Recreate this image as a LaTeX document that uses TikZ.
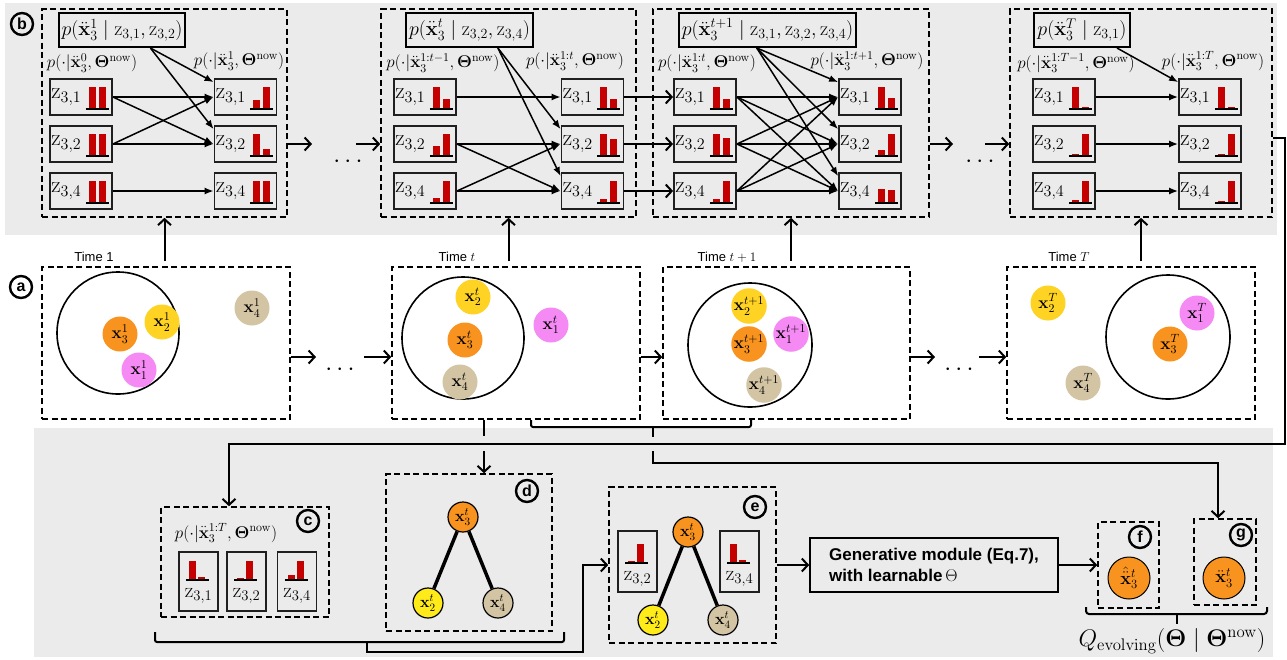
\RequirePackage{fix-cm}
\documentclass[tikz,border=0pt]{standalone}
\usepackage{amsmath,amssymb}
\usepackage[no-math]{fontspec}
\setsansfont{Liberation Sans}
\usetikzlibrary{arrows.meta,calc}
\definecolor{bgg}{HTML}{EBEBEB}
\definecolor{cor}{HTML}{F7931E}
\definecolor{cye}{HTML}{FFD324}
\definecolor{cye2}{HTML}{FFEA1A}
\definecolor{cpk}{HTML}{F58AF5}
\definecolor{ctn}{HTML}{D3C4A4}
\definecolor{cbar}{HTML}{C40000}
% horizontal z box: name, x, y, index, h1, h2
\newcommand{\hz}[6]{%
  \node[zb] (#1) at (#2,#3) {};
  \node[zlab, anchor=west] (#1t) at ([xshift=2pt]#1.west) {$\mathrm{z}_{3,#4}$};
  \fill[cbar] ([xshift=-24pt,yshift=7pt]#1.south east) rectangle ++(7pt,{#5*22pt});
  \fill[cbar] ([xshift=-14pt,yshift=7pt]#1.south east) rectangle ++(7pt,{#6*22pt});
  \draw[line width=1.8pt] ([xshift=-27pt,yshift=7pt]#1.south east) -- ++(23pt,0pt);
}
% vertical z box: name, x, y, index, h1, h2, height, baseline offset, label offset
\newcommand{\vz}[9]{%
  \node[zb, minimum width=39pt, minimum height=#7pt] (#1) at (#2,#3) {};
  \fill[cbar] ([xshift=11pt,yshift=-#8pt]#1.north west) rectangle ++(7pt,{#5*19pt});
  \fill[cbar] ([xshift=20pt,yshift=-#8pt]#1.north west) rectangle ++(7pt,{#6*19pt});
  \draw[line width=1.8pt] ([xshift=8pt,yshift=-#8pt]#1.north west) -- ++(23pt,0pt);
  \node[zlab2] (#1t) at ([yshift=-#9pt]#1.north) {$\mathrm{z}_{3,#4}$};
}
\begin{document}
\begin{tikzpicture}[x=1pt,y=-1pt,font=\fontsize{18}{21}\selectfont,
 dbox/.style={draw, dash pattern=on 6pt off 3.5pt, line width=1.6pt, inner sep=0pt},
 zb/.style={draw=black!88, line width=1.8pt, minimum width=62pt, minimum height=36pt, inner sep=0pt, fill=bgg},
 zlab/.style={inner sep=0pt, font=\fontsize{23}{25}\selectfont},
 zlab2/.style={inner sep=0pt, font=\fontsize{21}{23}\selectfont},
 hdr/.style={draw, line width=2pt, fill=bgg, inner sep=3pt, minimum height=34pt, font=\fontsize{20}{22}\selectfont},
 plab/.style={inner sep=0pt, font=\fontsize{17}{19}\selectfont},
 arr/.style={line width=1.5pt, -{Latex[length=9pt,width=7pt]}},
 barr/.style={line width=2pt, -{Straight Barb[length=6pt,width=13pt]}},
 thk/.style={line width=2pt},
 clab/.style={circle, draw, line width=2.4pt, inner sep=0pt, minimum size=22pt, font=\sffamily\bfseries\fontsize{16}{16}\selectfont},
 an/.style={circle, minimum size=35pt, inner sep=0pt, font=\fontsize{17}{19}\selectfont},
 dn/.style={circle, draw, line width=1.2pt, minimum size=30pt, inner sep=0pt, font=\fontsize{16}{18}\selectfont},
 fn/.style={circle, draw, line width=1pt, fill=cor, minimum size=42pt, inner sep=0pt, font=\fontsize{18}{20}\selectfont},
 tlab/.style={font=\sffamily\fontsize{13}{15}\selectfont, inner sep=0pt},
 dts/.style={font=\fontsize{25}{27}\selectfont, inner sep=0pt},
 ring/.style={circle, draw, line width=1.6pt, inner sep=0pt}
]
\useasboundingbox (0,0) rectangle (1287,659);
\fill[white] (0,0) rectangle (1287,659);
\fill[bgg] (5,3) rectangle (1277,235);
\fill[bgg] (34,428) rectangle (1273,657);

% ---------------- panel b -----------------
\node[dbox, minimum width=245pt, minimum height=208pt] (B1) at (164.5,113) {};
\node[dbox, minimum width=255pt, minimum height=208pt] (B2) at (508.5,113) {};
\node[dbox, minimum width=276pt, minimum height=208pt] (B3) at (791,113) {};
\node[dbox, minimum width=262pt, minimum height=208pt] (B4) at (1141,113) {};
\node[clab] (lb) at (22,24) {b};

% B1
\node[hdr] (h1) at (122,30) {$p(\ddot{\mathbf{x}}_3^{1} \mid \mathrm{z}_{3,1}, \mathrm{z}_{3,2})$};
\node[plab] (b1ll) at (92,63) {$p(\cdot|\ddot{\mathbf{x}}_3^{0}, \mathbf{\Theta}^{\mathrm{now}})$};
\node[plab] (b1rl) at (239,61) {$p(\cdot|\ddot{\mathbf{x}}_3^{1}, \mathbf{\Theta}^{\mathrm{now}})$};
\hz{b1l1}{81}{97}{1}{1}{1}
\hz{b1l2}{81}{144}{2}{1}{1}
\hz{b1l4}{81}{191}{4}{1}{1}
\hz{b1r1}{245.5}{97}{1}{0.4}{1}
\hz{b1r2}{245.5}{144}{2}{1}{0.3}
\hz{b1r4}{245.5}{191}{4}{1}{1}
\coordinate (h1o) at ($(h1.south west)!0.72!(h1.south east)$);
\draw[arr] (h1o) -- ([yshift=-4pt]b1r1.north west);
\draw[arr] (h1o) -- ([yshift=-4pt]b1r2.north west);
\draw[arr] (b1l1.east) -- (b1r1.west);
\draw[arr] (b1l1.east) -- (b1r2.west);
\draw[arr] (b1l2.east) -- (b1r1.west);
\draw[arr] (b1l2.east) -- (b1r2.west);
\draw[arr] (b1l4.east) -- (b1r4.west);

% B2
\node[hdr] (h2) at (469.5,30) {$p(\ddot{\mathbf{x}}_3^{t} \mid \mathrm{z}_{3,2}, \mathrm{z}_{3,4})$};
\node[plab] (b2ll) at (443,63) {$p(\cdot|\ddot{\mathbf{x}}_3^{1:t-1}, \mathbf{\Theta}^{\mathrm{now}})$};
\node[plab] (b2rl) at (575,61) {$p(\cdot|\ddot{\mathbf{x}}_3^{1:t}, \mathbf{\Theta}^{\mathrm{now}})$};
\hz{b2l1}{425}{97}{1}{1}{0.45}
\hz{b2l2}{425}{144}{2}{0.45}{1}
\hz{b2l4}{425}{191}{4}{0.22}{1}
\hz{b2r1}{592.5}{97}{1}{1}{0.45}
\hz{b2r2}{592.5}{144}{2}{1}{0.78}
\hz{b2r4}{592.5}{191}{4}{0.2}{1}
\coordinate (h2o) at ($(h2.south west)!0.72!(h2.south east)$);
\draw[arr] (h2o) -- ([yshift=-4pt]b2r2.north west);
\draw[arr] (h2o) -- ([yshift=-4pt]b2r4.north west);
\draw[arr] (b2l1.east) -- (b2r1.west);
\draw[arr] (b2l2.east) -- (b2r2.west);
\draw[arr] (b2l2.east) -- (b2r4.west);
\draw[arr] (b2l4.east) -- (b2r2.west);
\draw[arr] (b2l4.east) -- (b2r4.west);

% B3
\node[hdr] (h3) at (767.5,30) {$p(\ddot{\mathbf{x}}_3^{t+1} \mid \mathrm{z}_{3,1}, \mathrm{z}_{3,2}, \mathrm{z}_{3,4})$};
\node[plab] (b3ll) at (707,63) {$p(\cdot|\ddot{\mathbf{x}}_3^{1:t}, \mathbf{\Theta}^{\mathrm{now}})$};
\node[plab] (b3rl) at (867,61) {$p(\cdot|\ddot{\mathbf{x}}_3^{1:t+1}, \mathbf{\Theta}^{\mathrm{now}})$};
\hz{b3l1}{705}{97}{1}{1}{0.45}
\hz{b3l2}{705}{144}{2}{1}{0.8}
\hz{b3l4}{705}{191}{4}{0.2}{1}
\hz{b3r1}{870}{97}{1}{1}{0.5}
\hz{b3r2}{870}{144}{2}{0.27}{1}
\hz{b3r4}{870}{191}{4}{0.65}{0.57}
\coordinate (h3o) at ($(h3.south west)!0.44!(h3.south east)$);
\draw[arr] (h3o) -- ([yshift=-4pt]b3r1.north west);
\draw[arr] (h3o) -- ([yshift=-4pt]b3r2.north west);
\draw[arr] (h3o) -- ([yshift=-4pt]b3r4.north west);
\foreach \i in {1,2,4}{\foreach \j in {1,2,4}{\draw[arr] (b3l\i.east) -- (b3r\j.west);}}

% B4
\node[hdr] (h4) at (1082,30) {$p(\ddot{\mathbf{x}}_3^{T} \mid \mathrm{z}_{3,1})$};
\node[plab] (b4ll) at (1076,63) {$p(\cdot|\ddot{\mathbf{x}}_3^{1:T-1}, \mathbf{\Theta}^{\mathrm{now}})$};
\node[plab] (b4rl) at (1213,61) {$p(\cdot|\ddot{\mathbf{x}}_3^{1:T}, \mathbf{\Theta}^{\mathrm{now}})$};
\hz{b4l1}{1064}{97}{1}{1}{0.1}
\hz{b4l2}{1064}{144}{2}{0.08}{1}
\hz{b4l4}{1064}{191}{4}{0.15}{1}
\hz{b4r1}{1210}{97}{1}{1}{0.1}
\hz{b4r2}{1210}{144}{2}{0.1}{1}
\hz{b4r4}{1210}{191}{4}{0.1}{1}
\coordinate (h4o) at ($(h4.south west)!0.86!(h4.south east)$);
\draw[arr] (h4o) -- ([yshift=-4pt]b4r1.north west);
\draw[arr] (b4l1.east) -- (b4r1.west);
\draw[arr] (b4l2.east) -- (b4r2.west);
\draw[arr] (b4l4.east) -- (b4r4.west);

% between panels b
\draw[barr] (b2r1.east) -- (b3l1.west);
\draw[barr] (b2r2.east) -- (b3l2.west);
\draw[barr] (b2r4.east) -- (b3l4.west);
\coordinate (e1) at (312,144);
\coordinate (s1) at (356,144);
\coordinate (e2) at (953,144);
\coordinate (s2) at (985,144);
\draw[barr] (B1.east |- b1r2) -- (e1);
\node[dts] (dt1) at (350,162) {$\cdots$};
\draw[barr] (s1) -- (B2.west |- b2l2);
\draw[barr] (B3.east |- b3r2) -- (e2);
\node[dts] (dt2) at (982,162) {$\cdots$};
\draw[barr] (s2) -- (B4.west |- b4l2);

% ---------------- panel a -----------------
\node[clab] (la) at (21,287) {a};
\node[dbox, minimum width=248pt, minimum height=152pt] (A1) at (166,343) {};
\node[dbox, minimum width=248pt, minimum height=152pt] (A2) at (516,343) {};
\node[dbox, minimum width=247pt, minimum height=152pt] (A3) at (786.5,343) {};
\node[dbox, minimum width=248pt, minimum height=152pt] (A4) at (1131,343) {};
\node[tlab] (t1) at (94,257) {Time 1};
\node[tlab] (t2) at (457,257) {Time $t$};
\node[tlab] (t3) at (727,257) {Time $t+1$};
\node[tlab] (t4) at (1069,257) {Time $T$};

\node[ring, minimum size=122pt] (r1) at (118,333) {};
\node[ring, minimum size=122pt] (r2) at (463,338) {};
\node[ring, minimum size=124pt] (r3) at (750,345) {};
\node[ring, minimum size=124pt] (r4) at (1168,337) {};

\node[an, fill=cor] (a13) at (120,334) {$\mathbf{x}_3^1$};
\node[an, fill=cye] (a12) at (162,322) {$\mathbf{x}_2^1$};
\node[an, fill=cpk] (a11) at (139,370) {$\mathbf{x}_1^1$};
\node[an, fill=ctn] (a14) at (252,308) {$\mathbf{x}_4^1$};

\node[an, fill=cye] (a22) at (473,297) {$\mathbf{x}_2^t$};
\node[an, fill=cor] (a23) at (465,340) {$\mathbf{x}_3^t$};
\node[an, fill=ctn] (a24) at (460,382) {$\mathbf{x}_4^t$};
\node[an, fill=cpk] (a21) at (551,325) {$\mathbf{x}_1^t$};

\node[an, fill=cye] (a32) at (749,306) {$\mathbf{x}_2^{t+1}$};
\node[an, fill=cor] (a33) at (749,344) {$\mathbf{x}_3^{t+1}$};
\node[an, fill=cpk] (a31) at (791,334) {$\mathbf{x}_1^{t+1}$};
\node[an, fill=ctn] (a34) at (764,385) {$\mathbf{x}_4^{t+1}$};

\node[an, fill=cye] (a42) at (1048,303) {$\mathbf{x}_2^T$};
\node[an, fill=cpk] (a41) at (1197,313) {$\mathbf{x}_1^T$};
\node[an, fill=cor] (a43) at (1170,344) {$\mathbf{x}_3^T$};
\node[an, fill=ctn] (a44) at (1083,383) {$\mathbf{x}_4^T$};

% up arrows
\draw[barr] ([yshift=5pt]A1.north -| B1.south) -- (B1.south);
\draw[barr] ([yshift=5pt]A2.north -| B2.south) -- (B2.south);
\draw[barr] ([yshift=5pt]A3.north -| B3.south) -- (B3.south);
\draw[barr] ([yshift=5pt]A4.north -| B4.south) -- (B4.south);

% horizontal arrows in row a
\coordinate (ya) at (0,357);
\coordinate (e3) at (316,357);
\coordinate (s3) at (364,357);
\coordinate (e4) at (935,357);
\coordinate (s4) at (979,357);
\draw[barr] (A1.east |- ya) -- (e3);
\node[dts] (dt3) at (342,370) {$\cdots$};
\draw[barr] (s3) -- (A2.west |- ya);
\draw[barr] (A2.east |- ya) -- (A3.west |- ya);
\draw[barr] (A3.east |- ya) -- (e4);
\node[dts] (dt4) at (961,370) {$\cdots$};
\draw[barr] (s4) -- (A4.west |- ya);

% ---------------- panel c -----------------
\node[dbox, minimum width=168pt, minimum height=110pt] (C) at (245,562) {};
\node[clab] (lc) at (308,521) {c};
\node[plab] (cl) at (226,533) {$p(\cdot|\ddot{\mathbf{x}}_3^{1:T}, \mathbf{\Theta}^{\mathrm{now}})$};
\vz{c1}{198.5}{581.5}{1}{1}{0.15}{59}{29}{45}
\vz{c2}{246.5}{581.5}{2}{0.1}{1}{59}{29}{45}
\vz{c4}{297}{581.5}{4}{0.25}{1}{59}{29}{45}

% ---------------- panel d -----------------
\node[dbox, minimum width=166pt, minimum height=157pt] (D) at (469,552.5) {};
\node[clab] (ld) at (527,491) {d};
\node[dn, fill=cor] (d3) at (463,517) {$\mathbf{x}_3^t$};
\node[dn, fill=cye2] (d2) at (428,603) {$\mathbf{x}_2^t$};
\node[dn, fill=ctn] (d4) at (498,603) {$\mathbf{x}_4^t$};
\draw[line width=3.5pt] (d3) -- (d2);
\draw[line width=3.5pt] (d3) -- (d4);

% ---------------- panel e -----------------
\node[dbox, minimum width=167pt, minimum height=156pt] (E) at (692.5,565) {};
\node[clab] (le) at (755,507) {e};
\vz{e32}{637.5}{561.5}{2}{0.1}{1}{61}{33}{49}
\vz{e34}{739.5}{561.5}{4}{1}{0.15}{61}{33}{49}
\node[dn, fill=cor] (e3) at (688,532) {$\mathbf{x}_3^t$};
\node[dn, fill=cye2] (e2) at (653,620) {$\mathbf{x}_2^t$};
\node[dn, fill=ctn] (e4) at (723,620) {$\mathbf{x}_4^t$};
\draw[line width=3.5pt] (e3) -- (e2);
\draw[line width=3.5pt] (e3) -- (e4);

% ---------------- generative module -----------------
\node[draw, line width=1.6pt, minimum width=248pt, minimum height=54pt, align=left,
      font=\sffamily\bfseries\fontsize{17}{21}\selectfont] (Gen) at (934,565)
      {Generative module (Eq.7),\\ with learnable\,$\Theta$};

% ---------------- panels f, g -----------------
\node[dbox, minimum width=61pt, minimum height=86pt] (F) at (1128.5,565) {};
\node[clab] (lf) at (1140,537) {f};
\node[fn] (fx) at (1129,578) {$\hat{\ddot{\mathbf{x}}}_3^t$};
\node[dbox, minimum width=62pt, minimum height=86pt] (G) at (1225,562) {};
\node[clab] (lg) at (1241,535) {g};
\node[fn] (gx) at (1224,578) {$\ddot{\mathbf{x}}_3^t$};
\draw[thk, rounded corners=3pt] (1086,607) -- (1086,614) -- (1267,614) -- (1267,607);
\draw[thk] (1177,614) -- (1177,624);
\node[inner sep=0pt, font=\fontsize{24}{26}\selectfont] (Q) at (1172,641)
  {$Q_{\mathrm{evolving}}(\mathbf{\Theta} \mid \mathbf{\Theta}^{\mathrm{now}})$};

% ---------------- bottom connectors -----------------
\coordinate (yb) at (0,138);
\draw[barr] (B4.east |- yb) -- (1285,138) -- (1285,444) -- (229,444) -- ([xshift=-16pt]C.north);
\draw[thk] ([xshift=-32pt]A2.south) -- (484,436);
\coordinate (s5) at (484,451);
\draw[barr] (s5) -- ([xshift=15pt]D.north);
\draw[thk, rounded corners=2pt] (531,420) -- (531,427) -- (751,427) -- (751,420);
\draw[thk] (653,427) -- (653,437);
\coordinate (s6) at (653,451);
\draw[barr] (s6) -- (653,463) -- (1218,463) -- ([xshift=-7pt]G.north);
\draw[thk, rounded corners=2pt] (155,632) -- (155,642) -- (564,642) -- (564,632);
\coordinate (s7) at (367,642);
\draw[barr] (s7) -- (367,652) -- (583,652) -- (583,565) -- (E.west);
\draw[barr] (E.east) -- (Gen.west);
\draw[barr] (Gen.east) -- (F.west);
\end{tikzpicture}
\end{document}
